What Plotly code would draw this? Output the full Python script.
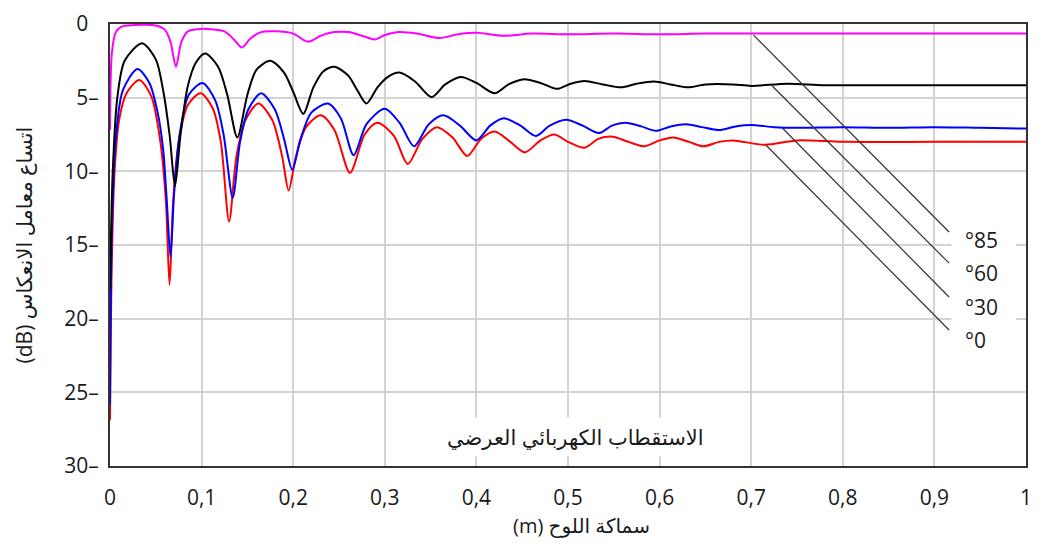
import plotly.graph_objects as go

# ---- data ----
x_red = [0, 0.002, 0.005, 0.01, 0.018, 0.032, 0.045, 0.055, 0.061, 0.065, 0.069, 0.075, 0.085, 0.099,
         0.112, 0.121, 0.13, 0.138, 0.148, 0.162, 0.177, 0.188, 0.195, 0.203, 0.214, 0.23, 0.245,
         0.262, 0.278, 0.292, 0.31, 0.325, 0.341, 0.357, 0.374, 0.39, 0.405, 0.42, 0.437, 0.453,
         0.47, 0.485, 0.5, 0.518, 0.533, 0.549, 0.566, 0.583, 0.6, 0.615, 0.632, 0.648, 0.665,
         0.68, 0.715, 0.75, 0.8, 0.9, 1.0]
y_red = [26.9, 16, 10, 6.5, 4.7, 3.8, 4.9, 8, 12, 17.7, 12, 8, 5.5, 4.7,
         5.7, 8, 13.4, 9, 6.5, 5.4, 6.5, 9, 11.3, 9, 7, 6.2, 7.2,
         10.1, 7.5, 6.7, 7.6, 9.5, 7.8, 7.0, 7.7, 8.96, 7.8, 7.3, 8.0, 8.7,
         7.9, 7.5, 8.0, 8.4, 7.8, 7.65, 8.0, 8.3, 7.9, 7.7, 8.0, 8.3, 8.0,
         7.9, 8.2, 7.9, 8.0, 8.0, 8.0]

x_blue = [0, 0.002, 0.006, 0.014, 0.03, 0.043, 0.052, 0.058, 0.062, 0.066, 0.07, 0.076, 0.086, 0.101,
          0.115, 0.124, 0.134, 0.142, 0.151, 0.165, 0.18, 0.19, 0.199, 0.208, 0.22, 0.238, 0.252,
          0.266, 0.28, 0.3, 0.316, 0.332, 0.348, 0.364, 0.382, 0.4, 0.415, 0.43, 0.448, 0.465,
          0.48, 0.498, 0.516, 0.534, 0.548, 0.563, 0.58, 0.596, 0.612, 0.629, 0.646, 0.665,
          0.683, 0.7, 0.725, 0.75, 0.8, 0.85, 0.9, 0.95, 1.0]
y_blue = [25.9, 14, 8, 4.5, 3.05, 4.0, 6.0, 8.5, 12, 15.8, 11.5, 7.5, 4.8, 4.0,
          5.2, 7.5, 11.8, 8, 5.8, 4.7, 5.8, 7.8, 9.9, 7.8, 6.0, 5.4, 6.4,
          8.9, 6.8, 5.75, 6.7, 8.3, 6.8, 6.2, 6.9, 7.9, 6.9, 6.4, 6.9, 7.6,
          6.9, 6.5, 6.9, 7.4, 6.9, 6.7, 6.95, 7.25, 6.95, 6.8, 7.0, 7.2,
          6.95, 6.85, 7.0, 7.05, 7.0, 7.05, 7.0, 7.05, 7.1]

x_black = [0, 0.003, 0.008, 0.016, 0.035, 0.05, 0.058, 0.065, 0.071, 0.077, 0.085, 0.094, 0.104,
           0.118, 0.128, 0.139, 0.15, 0.16, 0.175, 0.19, 0.2, 0.211, 0.222, 0.233, 0.245, 0.26,
           0.27, 0.28, 0.292, 0.303, 0.316, 0.333, 0.351, 0.366, 0.383, 0.4, 0.42, 0.435, 0.452,
           0.47, 0.488, 0.503, 0.518, 0.538, 0.558, 0.575, 0.594, 0.612, 0.631, 0.65, 0.68,
           0.7, 0.74, 0.78, 0.85, 0.9, 1.0]
y_black = [18, 10, 5, 2.5, 1.3, 2.4, 4.5, 7.5, 11, 7.5, 4.2, 2.6, 2.0,
           2.9, 4.8, 7.7, 4.8, 3.1, 2.5, 3.3, 4.6, 6.1, 4.3, 3.2, 2.9, 3.5,
           4.5, 5.4, 4.3, 3.6, 3.3, 3.9, 4.96, 4.1, 3.6, 4.0, 4.7, 4.1, 3.75,
           4.0, 4.4, 4.05, 3.87, 4.1, 4.3, 4.05, 3.9, 4.1, 4.3, 4.1, 4.1,
           4.2, 4.05, 4.15, 4.15, 4.15, 4.15]

x_mag = [0, 0.002, 0.006, 0.012, 0.02, 0.05, 0.06, 0.066, 0.072, 0.078, 0.085, 0.095, 0.11,
         0.125, 0.136, 0.144, 0.153, 0.165, 0.18, 0.2, 0.216, 0.23, 0.245, 0.26, 0.278, 0.289,
         0.3, 0.315, 0.335, 0.36, 0.38, 0.4, 0.43, 0.46, 0.5, 0.55, 0.6, 0.65, 0.7, 0.8, 1.0]
y_mag = [7.2, 2.0, 0.6, 0.2, 0.1, 0.1, 0.4, 1.2, 2.9, 1.2, 0.5, 0.35, 0.35,
         0.5, 1.1, 1.6, 1.0, 0.55, 0.5, 0.65, 1.2, 0.8, 0.55, 0.55, 0.85, 1.05,
         0.75, 0.55, 0.65, 0.95, 0.7, 0.6, 0.8, 0.65, 0.7, 0.65, 0.7, 0.65, 0.65, 0.65, 0.65]

series = [
    ("0°", x_red, y_red, "#ff0000"),
    ("30°", x_blue, y_blue, "#0000ff"),
    ("60°", x_black, y_black, "#000000"),
    ("85°", x_mag, y_mag, "#ff00ff"),
]

x_ticks = [0, 0.1, 0.2, 0.3, 0.4, 0.5, 0.6, 0.7, 0.8, 0.9, 1]
x_tick_text = ["0", "0,1", "0,2", "0,3", "0,4", "0,5", "0,6", "0,7", "0,8", "0,9", "1"]
y_ticks = [0, 5, 10, 15, 20, 25, 30]
y_tick_text = ["0\u2002", "5–", "10–", "15–", "20–", "25–", "30–"]

# leader lines: (start on curve) -> (end near label), label text
leader_labels = ["°85", "°60", "°30", "°0"]
leader_start_x = [0.7025, 0.723, 0.734, 0.716]
leader_start_y = [0.75, 4.21, 7.06, 8.21]
leader_end_x = [0.916, 0.916, 0.916, 0.916]
leader_end_y = [14.12, 16.23, 18.53, 20.77]
label_y = [14.66, 16.9, 19.2, 21.45]

FONT = "Open Sans, DejaVu Sans, sans-serif"

fig = go.Figure()
for name, xs, ys, col in series:
    fig.add_trace(go.Scatter(x=xs, y=ys, mode="lines", name=name,
                             line=dict(color=col, width=2, shape="spline", smoothing=0.8),
                             showlegend=False))

# white mask behind the angle labels (hides gridlines, keeps frame)
fig.add_shape(type="rect", xref="x", yref="y", x0=0.9186, x1=0.989, y0=13.65, y1=22.47,
              fillcolor="white", line=dict(width=0), layer="between")

for i in range(len(leader_labels)):
    fig.add_shape(type="line", xref="x", yref="y",
                  x0=leader_start_x[i], y0=leader_start_y[i],
                  x1=leader_end_x[i], y1=leader_end_y[i],
                  line=dict(color="#333333", width=1.2))
    fig.add_annotation(x=0.9316, y=label_y[i], xref="x", yref="y", text=leader_labels[i],
                       showarrow=False, xanchor="left", yanchor="middle",
                       font=dict(size=21, color="#1a1a1a", family=FONT))

fig.add_annotation(x=0.508, y=28.05, xref="x", yref="y",
                   text="\u202Bالاستقطاب الكهربائي العرضي\u202C", showarrow=False,
                   font=dict(size=21, color="#1a1a1a", family=FONT),
                   bgcolor="white", borderpad=5)

fig.add_annotation(x=0.515, y=-0.1335, xref="paper", yref="paper", yanchor="middle",
                   text="\u202Bسماكة اللوح (m)\u202C", showarrow=False,
                   font=dict(size=20, color="#1a1a1a", family=FONT))
fig.add_annotation(x=-0.0934, y=0.5, xref="paper", yref="paper", xanchor="center",
                   text="\u202Bاتساع معامل الانعكاس (dB)\u202C", showarrow=False, textangle=-90,
                   font=dict(size=21, color="#1a1a1a", family=FONT))

fig.update_xaxes(range=[0, 1], tickmode="array", tickvals=x_ticks, ticktext=x_tick_text,
                 showgrid=True, gridcolor="#d3d3d3", gridwidth=2, zeroline=False,
                 showline=True, mirror=True, linecolor="#333333", linewidth=2,
                 ticks="", ticklabelstandoff=12, layer="below traces",
                 tickfont=dict(size=21, color="#1a1a1a", family=FONT))
fig.update_yaxes(range=[30, 0], tickmode="array", tickvals=y_ticks, ticktext=y_tick_text,
                 showgrid=True, gridcolor="#d3d3d3", gridwidth=2, zeroline=False,
                 showline=True, mirror=True, linecolor="#333333", linewidth=2,
                 ticks="", ticklabelstandoff=5, layer="below traces",
                 tickfont=dict(size=21, color="#1a1a1a", family=FONT))

fig.update_layout(width=1040, height=546, margin=dict(l=110, r=8, t=24, b=80),
                  paper_bgcolor="white", plot_bgcolor="white", showlegend=False)

fig.write_html("out.html")
